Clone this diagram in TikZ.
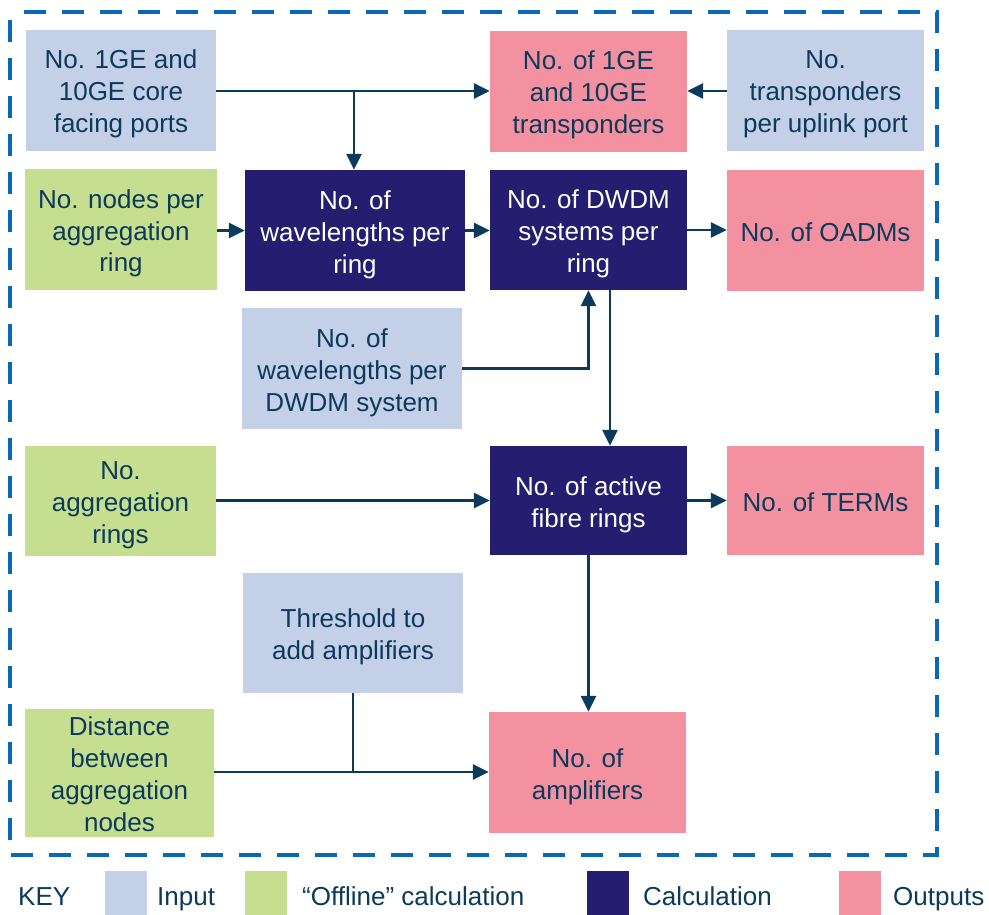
\documentclass[tikz,border=0pt]{standalone}
\usepackage{fontspec}
\setmainfont{Liberation Sans}
\usetikzlibrary{arrows.meta}
\definecolor{inpc}{HTML}{C4CFE8}
\definecolor{offc}{HTML}{C5DE8F}
\definecolor{calcc}{HTML}{251D6F}
\definecolor{outc}{HTML}{F491A0}
\definecolor{txtc}{HTML}{0C3A5A}
\definecolor{bordc}{HTML}{0A69B4}
\newcommand\ms{\rule[-5.5pt]{0pt}{32pt}}
\tikzset{
  box/.style={rectangle, inner sep=0pt, align=center, text=txtc,
    font=\fontsize{26}{32}\selectfont},
  inp/.style={box, fill=inpc},
  off/.style={box, fill=offc},
  calc/.style={box, fill=calcc, text=white},
  outp/.style={box, fill=outc},
  arr/.style={draw=txtc, line width=2.8pt, -{Triangle[length=16pt,width=15pt]}},
  ln/.style={draw=txtc, line width=2.8pt},
  keysq/.style={rectangle, inner sep=0pt, minimum width=42pt, minimum height=44pt},
  keytxt/.style={anchor=base west, inner sep=0pt, text=txtc, font=\fontsize{26}{32}\selectfont},
}
\begin{document}
\begin{tikzpicture}[x=1pt,y=-1pt]
\useasboundingbox (0,0) rectangle (989,915);
% border
\draw[bordc, line width=4.5pt, dash pattern=on 22pt off 16pt, dash phase=-8pt] (10,12) rectangle (937,855);
% nodes
\node[inp, minimum width=190pt, minimum height=121pt] (core) at (121,90.5) {\ms No. 1GE and\\10GE core\\facing ports\ms};
\node[outp, minimum width=197pt, minimum height=121pt] (trans) at (588.5,91.5) {\ms No. of 1GE\\and 10GE\\transponders\ms};
\node[inp, minimum width=197pt, minimum height=121pt] (uplink) at (825.5,90.5) {\ms No.\\transponders\\per uplink port\ms};
\node[off, minimum width=192pt, minimum height=121pt] (nodesper) at (121,229.5) {\ms No. nodes per\\aggregation\\ring\ms};
\node[calc, minimum width=220pt, minimum height=121pt] (wlring) at (355,230.5) {\ms No. of\\wavelengths per\\ring\ms};
\node[calc, minimum width=197pt, minimum height=120pt] (dwdm) at (588.5,230) {\ms No. of DWDM\\systems per\\ring\ms};
\node[outp, minimum width=197pt, minimum height=121pt] (oadm) at (825.5,230.5) {\ms No. of OADMs};
\node[inp, minimum width=220pt, minimum height=121pt] (wldwdm) at (352,368.5) {\ms No. of\\wavelengths per\\DWDM system\ms};
\node[off, minimum width=191pt, minimum height=110pt] (aggrings) at (120.5,501) {\ms No.\\aggregation\\rings\ms};
\node[calc, minimum width=197pt, minimum height=109pt] (active) at (588.5,500.5) {\ms No. of active\\fibre rings\ms};
\node[outp, minimum width=197pt, minimum height=109pt] (terms) at (825.5,500.5) {\ms No. of TERMs};
\node[inp, minimum width=220pt, minimum height=120pt] (thresh) at (353,633) {\ms Threshold to\\add amplifiers\ms};
\node[off, minimum width=189pt, minimum height=123pt] (dist) at (119.5,772.5) {\ms Distance\\between\\aggregation\\nodes\ms};
\node[outp, minimum width=197pt, minimum height=121pt] (amps) at (587.5,772.5) {\ms No. of\\amplifiers\ms};
% connectors
\coordinate (j1) at (354,91);
\coordinate (j2) at (352,772);
\draw[arr] (core.east |- j1) -- (trans.west |- j1);
\draw[arr] (j1) -- (j1 |- wlring.north);
\draw[arr] (uplink.west |- j1) -- (trans.east |- j1);
\draw[arr] (nodesper.east |- wlring.west) -- (wlring.west);
\draw[arr] (wlring.east) -- (wlring.east -| dwdm.west);
\draw[arr] (dwdm.east) -- (dwdm.east -| oadm.west);
\draw[arr] (wldwdm.east) -| (dwdm.south);
\draw[arr] ([xshift=21.5pt]dwdm.south) -- ([xshift=21.5pt]dwdm.south |- active.north);
\draw[arr] (aggrings.east |- active.west) -- (active.west);
\draw[arr] (active.east) -- (active.east -| terms.west);
\draw[arr] (active.south) -- (active.south |- amps.north);
\draw[ln] (thresh.south) -- (thresh.south |- j2);
\draw[arr] (dist.east |- j2) -- (amps.west |- j2);
% key
\node[keytxt] (keylbl) at (18,905) {KEY};
\node[keysq, fill=inpc] (k1) at (125.5,893) {};
\node[keytxt] (k1t) at (157,905) {Input};
\node[keysq, fill=offc] (k2) at (266,893) {};
\node[keytxt] (k2t) at (302,905) {“Offline” calculation};
\node[keysq, fill=calcc] (k3) at (607.5,893) {};
\node[keytxt] (k3t) at (643,905) {Calculation};
\node[keysq, fill=outc] (k4) at (859.5,893) {};
\node[keytxt] (k4t) at (893,905) {Outputs};
\end{tikzpicture}
\end{document}
